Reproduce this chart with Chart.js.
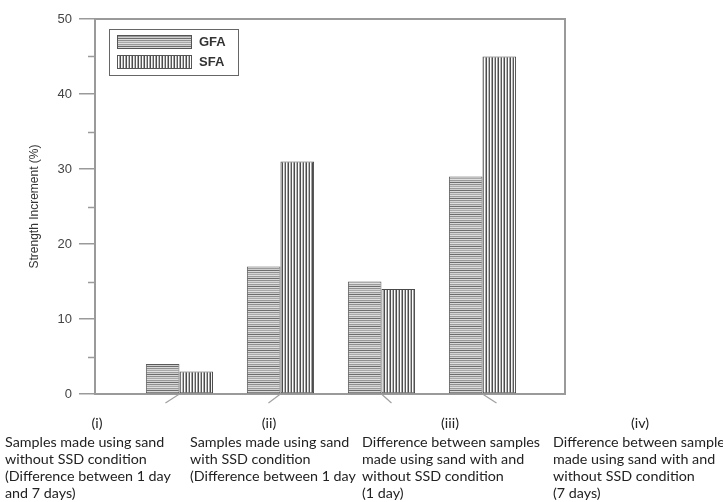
<!DOCTYPE html>
<html>
<head>
<meta charset="utf-8">
<style>
  html, body { margin: 0; padding: 0; background: #fff; }
  #wrap { width: 723px; height: 502px; position: relative; }
</style>
<script src="https://cdn.jsdelivr.net/npm/chart.js@4.4.1/dist/chart.umd.min.js"></script>
</head>
<body>
<div id="wrap"><canvas id="chart" width="723" height="502"></canvas></div>
<script>
// Group positions along the x axis and the series values
const groupPositions = [1, 2, 3, 4];
const groupNumerals = ['(i)', '(ii)', '(iii)', '(iv)'];
const groupDescriptions = [
  ['Samples made using sand', 'without SSD condition', '(Difference between 1 day', 'and 7 days)'],
  ['Samples made using sand', 'with SSD condition', '(Difference between 1 day'],
  ['Difference between samples', 'made using sand with and', 'without SSD condition', '(1 day)'],
  ['Difference between samples', 'made using sand with and', 'without SSD condition', '(7 days)']
];
const seriesNames = ['GFA', 'SFA'];
const gfaValues = [4, 17, 15, 29];
const sfaValues = [3, 31, 14, 45];
const yTicksMajor = [0, 10, 20, 30, 40, 50];
const yTicksMinor = [5, 15, 25, 35, 45];

// Hatch fills: horizontal rules for GFA, vertical rules for SFA
function makePattern(colors, vertical) {
  const c = document.createElement('canvas');
  const n = colors.length;
  c.width = vertical ? n : 4;
  c.height = vertical ? 4 : n;
  const g = c.getContext('2d');
  colors.forEach((col, i) => {
    g.fillStyle = col;
    if (vertical) g.fillRect(i, 0, 1, 4); else g.fillRect(0, i, 4, 1);
  });
  return g.createPattern(c, 'repeat');
}
const ctx = document.getElementById('chart').getContext('2d');
const hatchH = makePattern(['#8f8f8f', '#d4d4d4', '#a9a9a9', '#e0e0e0', '#9a9a9a', '#cfcfcf', '#6e6e6e', '#dadada'], false);
const hatchV = makePattern(['#4c4c4c', '#f7f7f7', '#b8b8b8', '#585858', '#ffffff', '#a5a5a5'], true);

const AXIS = '#9a9a9a';

// Top/right frame, minor ticks, slanted group marks, legend and group notes
const framePlugin = {
  id: 'frame',
  afterDatasetsDraw(chart) {
    const { ctx, chartArea: a, scales } = chart;
    ctx.save();
    ctx.strokeStyle = AXIS;
    ctx.lineWidth = 2;
    ctx.beginPath();
    ctx.moveTo(a.left, a.top);
    ctx.lineTo(a.right, a.top);
    ctx.lineTo(a.right, a.bottom);
    ctx.stroke();
    ctx.lineWidth = 1.5;
    yTicksMinor.forEach(v => {
      const y = Math.round(scales.y.getPixelForValue(v)) + 0.5;
      ctx.beginPath();
      ctx.moveTo(a.left - 7, y);
      ctx.lineTo(a.left, y);
      ctx.stroke();
    });
    const slant = [-14, -12, 10, 14];
    ctx.lineWidth = 1.2;
    ctx.strokeStyle = '#a0a0a0';
    groupPositions.forEach((p, i) => {
      const x = scales.x.getPixelForValue(p);
      ctx.beginPath();
      ctx.moveTo(x, a.bottom);
      ctx.lineTo(x + slant[i], a.bottom + 9);
      ctx.stroke();
    });
    ctx.restore();
  },
  afterDraw(chart) {
    const { ctx } = chart;
    ctx.save();
    const bx = 109.5, by = 29.5, bw = 129, bh = 46;
    ctx.strokeStyle = '#666';
    ctx.lineWidth = 1;
    ctx.strokeRect(bx, by, bw, bh);
    chart.data.datasets.forEach((ds, i) => {
      const sy = 35 + i * 20;
      ctx.fillStyle = ds.backgroundColor;
      ctx.fillRect(117, sy, 75, 14);
      ctx.strokeStyle = '#555';
      ctx.strokeRect(117.5, sy + 0.5, 74, 13);
      ctx.fillStyle = '#333';
      ctx.font = 'bold 13px "Liberation Sans", Arial, sans-serif';
      ctx.textBaseline = 'middle';
      ctx.textAlign = 'left';
      ctx.fillText(ds.label, 199, sy + 7.5);
    });
    const blockLeft = [5, 190, 362, 553];
    const headCenter = [97, 269, 450, 640];
    ctx.fillStyle = '#222';
    ctx.font = '14.3px Lato, "Open Sans", sans-serif';
    ctx.textBaseline = 'alphabetic';
    groupNumerals.forEach((num, i) => {
      ctx.textAlign = 'center';
      ctx.fillText(num, headCenter[i], 428);
      ctx.textAlign = 'left';
      groupDescriptions[i].forEach((line, k) => {
        ctx.fillText(line, blockLeft[i], 447 + k * 17);
      });
    });
    ctx.restore();
  }
};

new Chart(ctx, {
  type: 'bar',
  data: {
    datasets: [
      {
        label: seriesNames[0],
        data: groupPositions.map((x, i) => ({ x, y: gfaValues[i] })),
        backgroundColor: hatchH,
        borderColor: '#5a5a5a',
        borderWidth: 1,
        borderSkipped: false
      },
      {
        label: seriesNames[1],
        data: groupPositions.map((x, i) => ({ x, y: sfaValues[i] })),
        backgroundColor: hatchV,
        borderColor: '#4a4a4a',
        borderWidth: 1,
        borderSkipped: false
      }
    ]
  },
  options: {
    responsive: false,
    animation: false,
    categoryPercentage: 0.665,
    barPercentage: 1,
    layout: { padding: { left: 0, top: 19, right: 158, bottom: 0 } },
    plugins: { legend: { display: false }, tooltip: { enabled: false } },
    scales: {
      x: {
        type: 'linear',
        min: 0.164,
        max: 4.817,
        offset: false,
        afterBuildTicks(scale) { scale.ticks = groupPositions.map(v => ({ value: v })); },
        grid: { display: false },
        ticks: { display: false },
        border: { display: true, color: AXIS, width: 2 },
        afterFit(scale) { scale.height = 108; }
      },
      y: {
        min: 0,
        max: 50,
        afterBuildTicks(scale) { scale.ticks = yTicksMajor.map(v => ({ value: v })); },
        grid: { drawOnChartArea: false, drawTicks: true, tickLength: 16, color: AXIS, lineWidth: 1.5 },
        border: { display: true, color: AXIS, width: 2 },
        ticks: {
          padding: 7,
          color: '#444',
          font: { family: '"Liberation Sans", Arial, sans-serif', size: 13 }
        },
        title: {
          display: true,
          text: 'Strength Increment (%)',
          color: '#333',
          font: { family: '"Liberation Sans Narrow", "Liberation Sans", Arial, sans-serif', size: 12 },
          padding: { top: 27, bottom: 0 }
        },
        afterFit(scale) { scale.width = 95; }
      }
    }
  },
  plugins: [framePlugin]
});
</script>
</body>
</html>
